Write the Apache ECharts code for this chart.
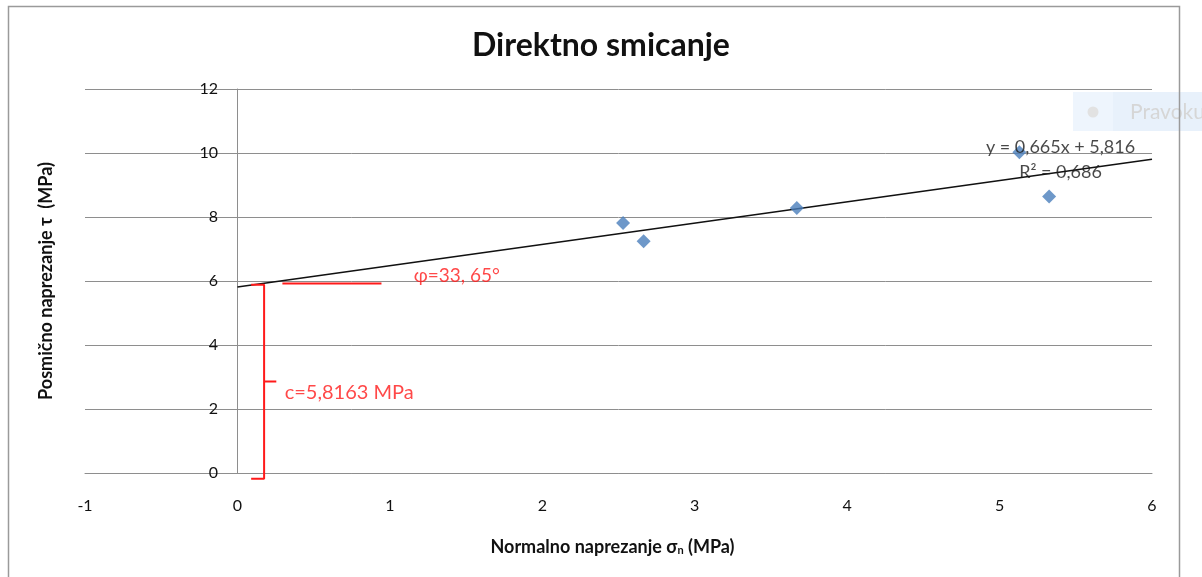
<!DOCTYPE html>
<html>
<head>
<meta charset="utf-8">
<script src="https://cdn.jsdelivr.net/npm/echarts@6/dist/echarts.min.js"></script>
<style>
html,body{margin:0;padding:0;background:#fff;}
#chart{width:1202px;height:577px;}
</style>
</head>
<body>
<div id="chart"></div>
<script>
// Data
const sigmaN = [2.53, 2.665, 3.67, 5.13, 5.325];      // normal stress (MPa)
const tau    = [7.81, 7.24, 8.28, 10.02, 8.64];       // shear stress (MPa)
const trendX = [0, 6];
const trendY = [5.816, 9.806];                        // y = 0,665x + 5,816
const xTicks = [-1, 0, 1, 2, 3, 4, 5, 6];
const yTicks = [0, 2, 4, 6, 8, 10, 12];
const eqText = 'y = 0,665x + 5,816\nR² = 0,686';
const cText = 'c=5,8163 MPa';
const phiText = 'φ=33, 65°';
const seriesName = 'Pravoku';

const FONT = 'Lato';
const chart = echarts.init(document.getElementById('chart'), null, {renderer: 'canvas'});

const points = sigmaN.map((x, i) => [x, tau[i]]);
const trend = trendX.map((x, i) => [x, trendY[i]]);

const red = '#ff1a1a';
const option = {
  backgroundColor: '#fff',
  animation: false,
  title: {
    text: 'Direktno smicanje',
    left: 596,
    textAlign: 'center',
    top: 25,
    textStyle: {fontFamily: FONT, fontWeight: 'bold', fontSize: 32, color: '#111'}
  },
  grid: {left: 85, right: 50, top: 89, bottom: 104, containLabel: false, outerBoundsMode: 'none'},
  xAxis: {
    type: 'value', min: xTicks[0], max: xTicks[xTicks.length - 1], interval: 1,
    name: 'Normalno naprezanje σ{sub|n} (MPa)',
    nameLocation: 'middle', nameGap: 65,
    nameTextStyle: {fontFamily: FONT, fontWeight: 'bold', fontSize: 18, color: '#111', padding: [0, 12, 0, 0],
      rich: {sub: {fontFamily: FONT, fontWeight: 'bold', fontSize: 11, color: '#111', verticalAlign: 'bottom', padding: [7, 0, 0, 0]}}},
    axisLine: {show: true, lineStyle: {color: '#8e8e8e', width: 1}},
    axisTick: {show: false},
    splitLine: {show: false},
    axisLabel: {margin: 25, fontFamily: FONT, fontSize: 16, color: '#111'}
  },
  yAxis: {
    type: 'value', min: yTicks[0], max: yTicks[yTicks.length - 1], interval: 2,
    name: 'Posmično naprezanje τ  (MPa)',
    nameLocation: 'middle', nameGap: 30,
    nameTextStyle: {fontFamily: FONT, fontWeight: 'bold', fontSize: 18, color: '#111'},
    axisLine: {show: true, onZero: true, lineStyle: {color: '#8e8e8e', width: 1}},
    axisTick: {show: false},
    splitLine: {show: true, lineStyle: {color: '#8e8e8e', width: 1}},
    axisLabel: {margin: -133, fontFamily: FONT, fontSize: 16, color: '#111', align: 'right'}
  },
  graphic: [
    {type: 'rect', z: 1, shape: {x: 1073, y: 92, width: 140, height: 39}, style: {fill: '#e8f1fb'}},
    {type: 'rect', z: 1, shape: {x: 1073, y: 92, width: 40, height: 39}, style: {fill: '#eef5fd'}},
    {type: 'circle', z: 2, shape: {cx: 1093, cy: 112, r: 5.5}, style: {fill: '#e2e2e2'}},
    {type: 'text', z: 2, style: {text: seriesName, x: 1130, y: 112, fontFamily: FONT, fontSize: 21, fill: '#d6d6d6', verticalAlign: 'middle'}},
    {type: 'rect', z: 100, shape: {x: 8.5, y: 6.5, width: 1171, height: 600}, style: {fill: 'none', stroke: '#9a9a9a', lineWidth: 1.5}}
  ],
  series: [
    {
      type: 'line', data: trend, symbol: 'none', silent: true, z: 3,
      lineStyle: {color: '#111', width: 1.5}
    },
    {
      name: seriesName, type: 'scatter', data: points, symbol: 'diamond', symbolSize: 14, z: 4,
      itemStyle: {color: '#4a7ebb'}
    },
    // brace marking the cohesion c
    {
      type: 'line', silent: true, symbol: 'none', clip: false, z: 5,
      lineStyle: {color: red, width: 2},
      data: [[0.09, 5.88], [0.175, 5.88], [0.175, 2.86], [0.255, 2.86], [0.175, 2.86], [0.175, -0.18], [0.09, -0.18]]
    },
    // horizontal reference for the friction angle
    {
      type: 'line', silent: true, symbol: 'none', clip: false, z: 5,
      lineStyle: {color: red, width: 2},
      data: [[0.295, 5.925], [0.945, 5.925]]
    },
    // text annotations
    {
      type: 'scatter', silent: true, symbolSize: 0, z: 6, clip: false,
      data: [
        {value: [0.31, 2.52], label: {show: true, formatter: cText, position: 'right', distance: 0, align: 'left', verticalAlign: 'middle', color: red, fontFamily: FONT, fontSize: 20}},
        {value: [1.157, 6.175], label: {show: true, formatter: phiText, position: 'right', distance: 0, align: 'left', verticalAlign: 'middle', color: red, fontFamily: FONT, fontSize: 19}},
        {value: [5.40, 9.79], label: {show: true, formatter: eqText, position: 'inside', align: 'center', verticalAlign: 'middle', lineHeight: 25, color: '#1a1a1a', fontFamily: FONT, fontSize: 18}}
      ]
    }
  ]
};
chart.setOption(option);
</script>
</body>
</html>
